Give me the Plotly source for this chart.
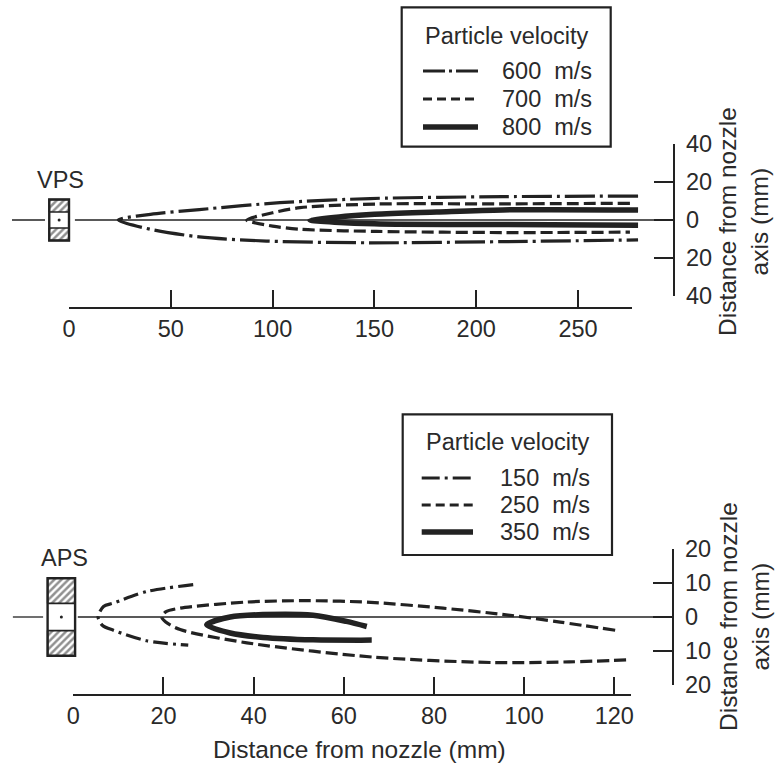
import plotly.graph_objects as go

W, H = 775, 767
FONT = "Liberation Sans, Arial, Helvetica, sans-serif"
INK = "#222222"
TXT = "#2a2a2a"

# ---------------- data (distances in mm) ----------------
VPS_LABELS = ["600  m/s", "700  m/s", "800  m/s"]
APS_LABELS = ["150  m/s", "250  m/s", "350  m/s"]

VPS_TICKS_X = [0, 50, 100, 150, 200, 250]
VPS_TICKS_Y = [-40, -20, 0, 20, 40]
APS_TICKS_X = [0, 20, 40, 60, 80, 100, 120]
APS_TICKS_Y = [-20, -10, 0, 10, 20]

# VPS jet: upper and lower envelope of each velocity, both starting at the tip
VPS600_UP_X = [24.2, 40, 64, 103.6, 148, 213, 279.5]
VPS600_UP_Y = [0, 3.0, 5.5, 9.1, 11.3, 12.3, 12.6]
VPS600_LO_X = [24.2, 40, 64, 97, 148, 213, 279.5]
VPS600_LO_Y = [0, -4.9, -8.9, -11.1, -12.0, -11.4, -10.5]

VPS700_UP_X = [87.3, 100, 113.5, 151, 213, 275.5]
VPS700_UP_Y = [0, 3.8, 6.5, 8.4, 8.5, 8.8]
VPS700_LO_X = [87.3, 100, 113.5, 151, 213, 275.5]
VPS700_LO_Y = [0, -3.2, -4.9, -6.0, -6.6, -6.4]

VPS800_UP_X = [118.4, 150, 180.6, 213, 279.5]
VPS800_UP_Y = [0, 3.0, 4.2, 5.3, 5.3]
VPS800_LO_X = [118.4, 150, 213, 279.5]
VPS800_LO_Y = [0, -2.0, -2.4, -2.8]

# APS jet
APS150_UP_X = [5.5, 6.7, 8.9, 16.3, 26.6]
APS150_UP_Y = [0, 3.1, 4.1, 7.5, 9.5]
APS150_LO_X = [5.5, 6.5, 8.9, 16.3, 25.5]
APS150_LO_Y = [0, -2.5, -3.9, -7.0, -8.3]

APS250_UP_X = [19.6, 20.5, 23.7, 38.5, 52, 66, 82, 96.9, 108, 120.2]
APS250_UP_Y = [0, 1.5, 2.6, 4.4, 4.8, 4.3, 2.6, 0.5, -1.5, -3.9]
APS250_LO_X = [19.6, 20.5, 23.7, 38.5, 66.5, 93, 110, 123.3]
APS250_LO_Y = [0, -1.5, -3.7, -7.6, -11.8, -13.4, -13.2, -12.6]

APS350_UP_X = [29.6, 34.8, 42.1, 53.2, 60.6, 65.1]
APS350_UP_Y = [-2.3, 0, 0.7, 0.5, -1.3, -2.8]
APS350_LO_X = [29.6, 34.8, 42.1, 53.2, 66.2]
APS350_LO_Y = [-2.3, -4.7, -6.0, -6.7, -6.8]

# ---------------- helpers ----------------
def px(x):
    return x / W


def py(y):
    return 1 - y / H


def envelope(up_x, up_y, lo_x, lo_y):
    """Join upper and lower branch into one path through the tip."""
    return up_x[::-1] + lo_x[1:], up_y[::-1] + lo_y[1:]


# line styles
DASHDOT_VPS = "30px,5px,3px,5px"
DASHDOT_APS = "15px,5px,3px,5px"
DASHED = "12px,5px"

fig = go.Figure()

panels = [
    dict(xa="x", ya="y", labels=VPS_LABELS,
         series=[(VPS600_UP_X, VPS600_UP_Y, VPS600_LO_X, VPS600_LO_Y, DASHDOT_VPS, 3.2),
                 (VPS700_UP_X, VPS700_UP_Y, VPS700_LO_X, VPS700_LO_Y, DASHED, 3.2),
                 (VPS800_UP_X, VPS800_UP_Y, VPS800_LO_X, VPS800_LO_Y, "solid", 5.5)]),
    dict(xa="x3", ya="y2", labels=APS_LABELS,
         series=[(APS150_UP_X, APS150_UP_Y, APS150_LO_X, APS150_LO_Y, DASHDOT_APS, 3.2),
                 (APS250_UP_X, APS250_UP_Y, APS250_LO_X, APS250_LO_Y, DASHED, 3.2),
                 (APS350_UP_X, APS350_UP_Y, APS350_LO_X, APS350_LO_Y, "solid", 5.5)]),
]

for p in panels:
    for lab, (ux, uy, lx, ly, dash, w) in zip(p["labels"], p["series"]):
        xs, ys = envelope(ux, uy, lx, ly)
        fig.add_trace(go.Scatter(
            x=xs, y=ys, mode="lines", name=lab, xaxis=p["xa"], yaxis=p["ya"],
            line=dict(color=INK, width=w, dash=dash, shape="spline", smoothing=0.8),
            showlegend=False, hoverinfo="skip"))

# ---------------- nozzle sketches and jet axis ----------------
nozzles = [
    dict(xa="x", ya="y", x0=-9.7, x1=0.0, h=10.8, hi=4.2,
         ax0=-28.0, gap0=-11.8, gap1=2.9, ax1=297.0, name="VPS", lx=60, ly=180),
    dict(xa="x3", ya="y2", x0=-5.7, x1=0.4, h=11.4, hi=4.0,
         ax0=-13.4, gap0=-6.7, gap1=1.0, ax1=132.6, name="APS", lx=64, ly=558),
]

for n in nozzles:
    # jet axis, interrupted around the nozzle
    for a, b in ((n["ax0"], n["gap0"]), (n["gap1"], n["ax1"])):
        fig.add_trace(go.Scatter(
            x=[a, b], y=[0, 0], mode="lines", xaxis=n["xa"], yaxis=n["ya"],
            line=dict(color=INK, width=1.3), showlegend=False, hoverinfo="skip"))
    # hatched walls
    for s in (1, -1):
        yy = [s * n["hi"], s * n["hi"], s * n["h"], s * n["h"], s * n["hi"]]
        xx = [n["x0"], n["x1"], n["x1"], n["x0"], n["x0"]]
        fig.add_trace(go.Scatter(
            x=xx, y=yy, mode="lines", fill="toself", xaxis=n["xa"], yaxis=n["ya"],
            fillcolor="white",
            fillpattern=dict(shape="/", size=5, solidity=0.5, fgcolor=INK, bgcolor="white"),
            line=dict(color=INK, width=1.6), showlegend=False, hoverinfo="skip"))
    # outer outline
    fig.add_shape(type="rect", xref=n["xa"], yref=n["ya"],
                  x0=n["x0"], x1=n["x1"], y0=-n["h"], y1=n["h"],
                  line=dict(color=INK, width=2.4), fillcolor="rgba(0,0,0,0)")
    # bore centre
    fig.add_trace(go.Scatter(
        x=[(n["x0"] + n["x1"]) / 2], y=[0], mode="markers", xaxis=n["xa"], yaxis=n["ya"],
        marker=dict(color=INK, size=3), showlegend=False, hoverinfo="skip"))
    fig.add_annotation(text=n["name"], x=px(n["lx"]), y=py(n["ly"]), xref="paper", yref="paper",
                       showarrow=False, xanchor="center", yanchor="middle",
                       font=dict(family=FONT, size=23.5, color=TXT))

# empty traces so the stand-alone scale axes own a subplot
fig.add_trace(go.Scatter(x=[], y=[], xaxis="x2", yaxis="y", showlegend=False, hoverinfo="skip"))
fig.add_trace(go.Scatter(x=[], y=[], xaxis="x4", yaxis="y2", showlegend=False, hoverinfo="skip"))

# ---------------- axes ----------------
tickfont = dict(family=FONT, size=23.5, color=TXT)
hidden = dict(visible=False, showgrid=False, zeroline=False, fixedrange=True)


def scale_x(domain, rng, pos, ticks):
    return dict(domain=domain, range=rng, anchor="free", position=pos,
                showline=True, linecolor=INK, linewidth=2.2,
                ticks="inside", ticklen=17, tickwidth=2, tickcolor=INK,
                tickvals=ticks, ticktext=[str(t) for t in ticks],
                tickfont=tickfont, ticklabelstandoff=0, automargin=False,
                showgrid=False, zeroline=False, fixedrange=True)


def scale_y(domain, rng, pos, ticks):
    return dict(domain=domain, range=rng, anchor="free", position=pos, side="right",
                showline=True, linecolor=INK, linewidth=2.2,
                ticks="inside", ticklen=19, tickwidth=2, tickcolor=INK,
                tickvals=ticks, ticktext=[str(abs(t)) for t in ticks],
                tickfont=tickfont, ticklabelstandoff=6, automargin=False,
                showgrid=False, zeroline=False, fixedrange=True)


# VPS: 0 mm at x=69 px, 2.036 px/mm
k1, o1 = 2.036, 69.0
# APS: 0 mm at x=73.3 px, 4.508 px/mm
k2, o2 = 4.508, 73.3

fig.update_layout(
    xaxis=dict(domain=[0, 1], range=[-o1 / k1, (W - o1) / k1], anchor="y", **hidden),
    xaxis2=scale_x([px(o1), px(632)], [0, (632 - o1) / k1], py(307.7), VPS_TICKS_X),
    yaxis=scale_y([py(296), py(144)], [-40, 40], px(674), VPS_TICKS_Y),
    xaxis3=dict(domain=[0, 1], range=[-o2 / k2, (W - o2) / k2], anchor="y2", **hidden),
    xaxis4=scale_x([px(o2), px(630.7)], [0, (630.7 - o2) / k2], py(695), APS_TICKS_X),
    yaxis2=scale_y([py(685), py(549)], [-20, 20], px(673), APS_TICKS_Y),
)

# axis titles
for yc in (222, 617):
    fig.add_annotation(text="Distance from nozzle<br>axis (mm)", textangle=-90,
                       x=px(744), y=py(yc), xref="paper", yref="paper", showarrow=False,
                       xanchor="center", yanchor="middle", align="center",
                       font=dict(family=FONT, size=24.5, color=TXT))
fig.add_annotation(text="Distance from nozzle (mm)", x=px(359.5), y=py(749),
                   xref="paper", yref="paper", showarrow=False,
                   xanchor="center", yanchor="middle",
                   font=dict(family=FONT, size=24.5, color=TXT))

# ---------------- legends ----------------
legends = [
    dict(box=(401.7, 7.3, 610.7, 146.7), title_y=36, rows=(71, 99, 127),
         sx=(423, 478), tx=500, labels=VPS_LABELS,
         styles=[("22px,4px,3px,4px", 3.2), ("9px,5px", 3.2), ("solid", 5.5)]),
    dict(box=(402.7, 414.3, 612, 555), title_y=442, rows=(478, 505, 532),
         sx=(421.7, 473), tx=498, labels=APS_LABELS,
         styles=[("18px,5px,3px,5px", 3.2), ("9px,5px", 3.2), ("solid", 5.5)]),
]
for lg in legends:
    x0, y0, x1, y1 = lg["box"]
    fig.add_shape(type="rect", xref="paper", yref="paper",
                  x0=px(x0), x1=px(x1), y0=py(y1), y1=py(y0),
                  line=dict(color=INK, width=2.2), fillcolor="rgba(0,0,0,0)")
    fig.add_annotation(text="Particle velocity", x=px((x0 + x1) / 2), y=py(lg["title_y"]),
                       xref="paper", yref="paper", showarrow=False,
                       xanchor="center", yanchor="middle",
                       font=dict(family=FONT, size=23.5, color=TXT))
    for ry, lab, (dash, w) in zip(lg["rows"], lg["labels"], lg["styles"]):
        fig.add_shape(type="line", xref="paper", yref="paper",
                      x0=px(lg["sx"][0]), x1=px(lg["sx"][1]), y0=py(ry), y1=py(ry),
                      line=dict(color=INK, width=w, dash=dash))
        fig.add_annotation(text=lab, x=px(lg["tx"]), y=py(ry),
                           xref="paper", yref="paper", showarrow=False,
                           xanchor="left", yanchor="middle",
                           font=dict(family=FONT, size=23.5, color=TXT))

fig.update_layout(
    width=W, height=H,
    margin=dict(l=0, r=0, t=0, b=0, pad=0, autoexpand=False),
    paper_bgcolor="white", plot_bgcolor="rgba(0,0,0,0)",
    showlegend=False,
)

fig.write_html("out.html", config={"displayModeBar": False, "staticPlot": True})
